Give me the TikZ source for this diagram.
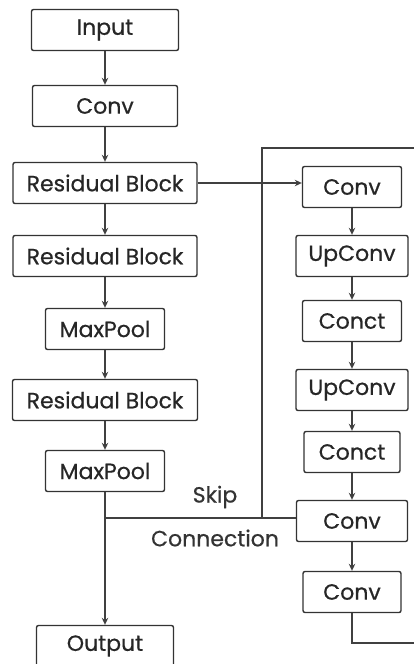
\documentclass[tikz,border=0pt]{standalone}
\usepackage{fontspec}
\setmainfont{Poppins}
\usetikzlibrary{arrows.meta}

\begin{document}
\begin{tikzpicture}[x=1pt,y=-1pt,>={Stealth[length=7pt,width=6.5pt]},
  blk/.style={draw=black!80,rounded corners=2pt,line width=1.4pt,inner sep=0pt,minimum height=41pt,text=black!85,font=\fontsize{22}{24}\selectfont\addfontfeature{FakeBold=0.6}},
  lnk/.style={draw=black!75,line width=1.2pt},
  lbl/.style={inner sep=1pt,text=black!80,font=\fontsize{22}{24}\selectfont\addfontfeature{FakeBold=0.6}}]
  \useasboundingbox (0,0) rectangle (414,664);
  % encoder column
  \node[blk,minimum width=147pt] (inp) at (105,30) {Input};
  \node[blk,minimum width=145pt] (conv0) at (105,106) {Conv};
  \node[blk,minimum width=184pt] (res1) at (105,183) {Residual Block};
  \node[blk,minimum width=184pt] (res2) at (105,256) {Residual Block};
  \node[blk,minimum width=119pt] (pool1) at (105,329) {MaxPool};
  \node[blk,minimum width=185pt] (res3) at (105,400) {Residual Block};
  \node[blk,minimum width=119pt] (pool2) at (105,471) {MaxPool};
  \node[blk,minimum width=137pt] (outp) at (105,646) {Output};
  % decoder column
  \node[blk,minimum width=99pt] (dconv1) at (352,187) {Conv};
  \node[blk,minimum width=112pt] (up1) at (352,256) {UpConv};
  \node[blk,minimum width=99pt] (cat1) at (352,321) {Conct};
  \node[blk,minimum width=112pt] (up2) at (352,390) {UpConv};
  \node[blk,minimum width=96pt] (cat2) at (352,452) {Conct};
  \node[blk,minimum width=111pt] (dconv2) at (352,521) {Conv};
  \node[blk,minimum width=98pt] (dconv3) at (352,592) {Conv};
  % labels
  \node[lbl] (skiplbl) at (215,497) {Skip};
  \node[lbl] (conlbl) at (215,538) {Connection};
  % free ends
  \coordinate (skipj) at (105,518);
  \coordinate (loopt) at (262,148);
  \coordinate (edge1) at (414,148);
  \coordinate (edge2) at (414,643);

  \draw[lnk,->] (inp) -- (conv0);
  \draw[lnk,->] (conv0) -- (res1);
  \draw[lnk,->] (res1) -- (res2);
  \draw[lnk,->] (res2) -- (pool1);
  \draw[lnk,->] (pool1) -- (res3);
  \draw[lnk,->] (res3) -- (pool2);
  \draw[lnk,->] (pool2) -- (outp);
  \draw[lnk,->] (res1.east) -- (res1.east -| dconv1.west);
  \draw[lnk,->] (dconv1) -- (up1);
  \draw[lnk,->] (up1) -- (cat1);
  \draw[lnk,->] (cat1) -- (up2);
  \draw[lnk,->] (up2) -- (cat2);
  \draw[lnk,->] (cat2) -- (dconv2);
  \draw[lnk,->] (dconv2) -- (dconv3);
  % skip connection
  \draw[lnk] (dconv2.west |- skipj) -- (skipj);
  \draw[lnk] (skipj -| loopt) -- (loopt) -- (edge1);
  \draw[lnk] (dconv3.south) -- (dconv3.south |- edge2) -- (edge2);
\end{tikzpicture}
\end{document}
